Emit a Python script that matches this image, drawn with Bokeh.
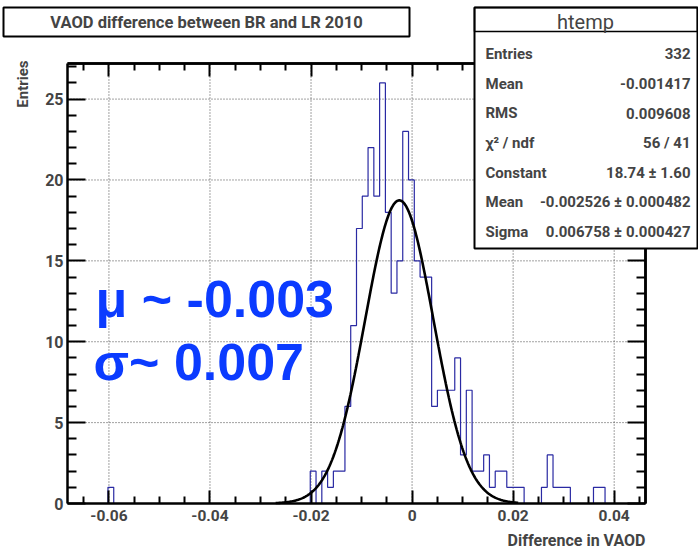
import numpy as np
from bokeh.plotting import figure
from bokeh.models import Range1d, LinearAxis, FixedTicker, Label, BoxAnnotation
from bokeh.embed import file_html
from bokeh.resources import INLINE

# ---------------- data ----------------
x_min, x_max = -0.0682, 0.0462
y_max = 27.2
counts = [0, 0, 0, 0, 0, 0, 0, 1, 0, 0,
          0, 0, 0, 0, 0, 0, 0, 0, 0, 0,
          0, 0, 0, 0, 0, 0, 0, 0, 0, 0,
          0, 0, 0, 0, 0, 0, 0, 0, 0, 0,
          0, 0, 2, 0, 2, 1, 2, 2, 6, 11,
          17, 19, 22, 19, 26, 18, 13, 15, 23, 20,
          15, 14, 14, 6, 7, 7, 7, 9, 3, 7,
          2, 2, 3, 1, 2, 2, 1, 1, 1, 0,
          0, 0, 1, 3, 1, 1, 1, 0, 0, 0,
          0, 1, 1, 0, 0, 0, 0, 0, 0, 0]
x_ticks = [-0.06, -0.04, -0.02, 0.0, 0.02, 0.04]
x_tick_labels = ["-0.06", "-0.04", "-0.02", "0", "0.02", "0.04"]
x_minor = [-0.065, -0.055, -0.05, -0.045, -0.035, -0.03, -0.025, -0.015, -0.01, -0.005,
           0.005, 0.01, 0.015, 0.025, 0.03, 0.035, 0.045]
y_ticks = [0, 5, 10, 15, 20, 25]
y_minor = [1, 2, 3, 4, 6, 7, 8, 9, 11, 12, 13, 14, 16, 17, 18, 19, 21, 22, 23, 24, 26, 27]
fit_const, fit_mean, fit_sigma = 18.74, -0.002526, 0.006758
fit_lo, fit_hi = -0.027, 0.021
stat_names = ["Entries", "Mean", "RMS", "\u03c7\u00b2 / ndf", "Constant", "Mean", "Sigma"]
stat_values = ["332", "-0.001417", "0.009608", "56 / 41", "18.74 \u00b1 1.60",
               "-0.002526 \u00b1 0.000482", "0.006758 \u00b1 0.000427"]
title_text = "VAOD difference between BR and LR 2010"
x_title = "Difference in VAOD"
y_title = "Entries"

# ---------------- layout (pixels) ----------------
W, H = 698, 552
L, R, T, B = 67, 645, 63, 503          # plot area inside the canvas


def dx(px):
    return x_min + (px - L) / (R - L) * (x_max - x_min)


def dy(py):
    return y_max * (B - py) / (B - T)


FONT = "Roboto"

p = figure(width=W, height=H, output_backend="svg", toolbar_location=None,
           x_range=Range1d(dx(0), dx(W)), y_range=Range1d(dy(H), dy(0)),
           min_border=0, x_axis_location=None, y_axis_location=None)
p.background_fill_color = "white"
p.border_fill_color = "white"
p.outline_line_color = None
p.xgrid.visible = False
p.ygrid.visible = False


def style_axis(ax, tick_len, minor_len):
    ax.major_tick_in = tick_len
    ax.major_tick_out = 0
    ax.minor_tick_in = minor_len
    ax.minor_tick_out = 0
    ax.axis_line_width = 2.5
    ax.axis_line_color = "black"
    ax.major_tick_line_width = 2
    ax.minor_tick_line_width = 2


# dotted grid limited to the plot area
p.segment(x0=x_ticks, y0=[0] * len(x_ticks), x1=x_ticks, y1=[y_max] * len(x_ticks),
          line_color="#444444", line_dash="1 2", line_width=1)
p.segment(x0=[x_min] * len(y_ticks), y0=y_ticks, x1=[x_max] * len(y_ticks), y1=y_ticks,
          line_color="#444444", line_dash="1 2", line_width=1)

# histogram outline
edges = np.linspace(x_min, x_max, len(counts) + 1)
cnt = np.array(counts, dtype=float)
hx = np.concatenate([[edges[0]], np.repeat(edges, 2)[1:-1], [edges[-1]]])
hy = np.concatenate([[0.0], np.repeat(cnt, 2), [0.0]])
p.line(hx, hy, line_color="#2a2aa3", line_width=1.2)

# gaussian fit
fx = np.linspace(fit_lo, fit_hi, 400)
fy = fit_const * np.exp(-0.5 * ((fx - fit_mean) / fit_sigma) ** 2)
p.line(fx, fy, line_color="black", line_width=2.6)

# bottom axis (with labels)
xb = LinearAxis(ticker=FixedTicker(ticks=x_ticks, minor_ticks=x_minor),
                fixed_location=0, bounds=(x_min, x_max))
style_axis(xb, 13, 7)
xb.major_label_overrides = dict(zip(x_ticks, x_tick_labels))
xb.major_label_text_font = FONT
xb.major_label_text_font_style = "bold"
xb.major_label_text_font_size = "15.5px"
xb.major_label_standoff = 6
p.add_layout(xb, "below")

# left axis (with labels)
yl = LinearAxis(ticker=FixedTicker(ticks=y_ticks, minor_ticks=y_minor),
                fixed_location=x_min, bounds=(0, y_max))
style_axis(yl, 18, 9)
yl.major_label_text_font = FONT
yl.major_label_text_font_style = "bold"
yl.major_label_text_font_size = "16px"
yl.major_label_standoff = 4
p.add_layout(yl, "left")

# top and right frame edges: tick marks only (drawn as minor ticks so no labels)
for ticks_, ln in ((x_ticks, 13), (x_minor, 7)):
    ax = LinearAxis(ticker=FixedTicker(ticks=[], minor_ticks=ticks_),
                    fixed_location=y_max, bounds=(x_min, x_max))
    style_axis(ax, 0, ln)
    p.add_layout(ax, "above")
for ticks_, ln in ((y_ticks, 18), (y_minor, 9)):
    ax = LinearAxis(ticker=FixedTicker(ticks=[], minor_ticks=ticks_),
                    fixed_location=x_max, bounds=(0, y_max))
    style_axis(ax, 0, ln)
    p.add_layout(ax, "right")

# big blue annotations
p.add_layout(Label(x=dx(95), y=dy(298), text="\u03bc ~ -0.003", text_font="Liberation Sans",
                   text_font_style="bold", text_font_size="52px", text_color="#0b3bff",
                   text_baseline="middle", text_align="left"))
p.add_layout(Label(x=dx(93), y=dy(361), text="\u03c3~ 0.007", text_font="Liberation Sans",
                   text_font_style="bold", text_font_size="52px", text_color="#0b3bff",
                   text_baseline="middle", text_align="left"))

# axis titles
p.add_layout(Label(x=dx(645), y=dy(540), text=x_title, text_font=FONT,
                   text_font_style="bold", text_font_size="16px", text_align="right",
                   text_baseline="middle"))
p.add_layout(Label(x=dx(22), y=dy(60), text=y_title, text_font=FONT, angle=np.pi / 2,
                   text_font_style="bold", text_font_size="15px", text_align="right",
                   text_baseline="middle"))

# title box
p.add_layout(BoxAnnotation(left=dx(3), right=dx(409), top=dy(7), bottom=dy(36),
                           fill_color="white", fill_alpha=1, line_color="black",
                           line_alpha=1, line_width=2, level="overlay"))
p.add_layout(Label(x=dx(206), y=dy(21.5), text=title_text, text_font=FONT,
                   text_font_style="bold", text_font_size="16.5px", text_align="center",
                   text_baseline="middle", level="overlay"))

# stats box
p.add_layout(BoxAnnotation(left=dx(474), right=dx(697), top=dy(7), bottom=dy(248),
                           fill_color="white", fill_alpha=1, line_color="black",
                           line_alpha=1, line_width=2, level="overlay"))
p.add_layout(BoxAnnotation(left=dx(474), right=dx(697), top=dy(7), bottom=dy(31),
                           fill_alpha=0, line_color="black", line_alpha=1,
                           line_width=1.5, level="overlay"))
p.add_layout(Label(x=dx(585), y=dy(21), text="htemp", text_font=FONT,
                   text_font_style="normal", text_font_size="20px", text_align="center",
                   text_baseline="middle", level="overlay"))
for i, (nm, val) in enumerate(zip(stat_names, stat_values)):
    yy = dy(53.3 + i * 29.7)
    p.add_layout(Label(x=dx(485), y=yy, text=nm, text_font=FONT, text_font_style="bold",
                       text_font_size="15px", text_align="left", text_baseline="middle",
                       level="overlay"))
    p.add_layout(Label(x=dx(690), y=yy, text=val, text_font=FONT, text_font_style="bold",
                       text_font_size="15px", text_align="right", text_baseline="middle",
                       level="overlay"))

open("out.html", "w").write(file_html(p, INLINE))
